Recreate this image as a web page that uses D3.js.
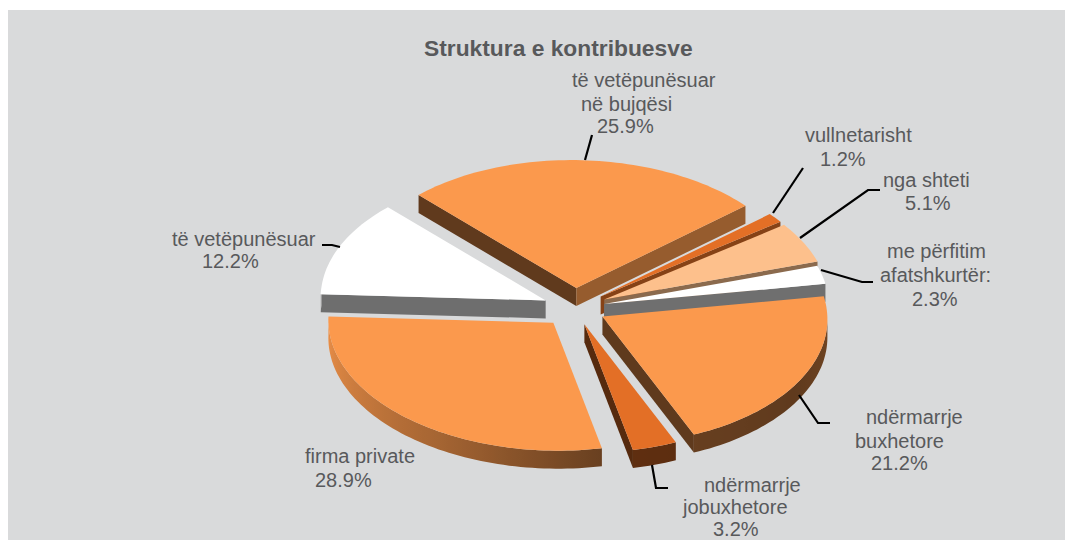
<!DOCTYPE html>
<html>
<head>
<meta charset="utf-8">
<script src="https://cdnjs.cloudflare.com/ajax/libs/d3/7.8.5/d3.min.js"></script>
<style>
html, body { margin: 0; padding: 0; background: #fff; overflow: hidden; }
text { font-family: "Liberation Sans", Arial, sans-serif; fill: #58595b; }
</style>
</head>
<body>
<div id="container"></div>
<script>
// Chart size
var svg_width = 1065
var svg_height = 540

// Data, clockwise from the back slice
var categories = ["të vetëpunësuar në bujqësi", "vullnetarisht", "nga shteti", "me përfitim afatshkurtër:",
    "ndërmarrje buxhetore", "ndërmarrje jobuxhetore", "firma private", "të vetëpunësuar"]
var shares = [25.9, 1.2, 5.1, 2.3, 21.2, 3.2, 28.9, 12.2]
var sliceColors = ["#fb994d", "#e36f26", "#fdc08c", "#ffffff", "#fb994d", "#e36f26", "#fb994d", "#ffffff"]
var explode = [35, 33, 33, 30, 31, 30, 34, 32]
var title = "Struktura e kontribuesve"

// Label text, one entry per line: [text, x, baseline]
var labels = [
    [["të vetëpunësuar", 572, 87], ["në bujqësi", 581, 111], ["25.9%", 597, 133]],
    [["vullnetarisht", 805, 142], ["1.2%", 820, 166]],
    [["nga shteti", 883, 187], ["5.1%", 905, 210]],
    [["me përfitim", 887, 258], ["afatshkurtër:", 880, 282], ["2.3%", 912, 306]],
    [["ndërmarrje", 866, 424], ["buxhetore", 855, 448], ["21.2%", 871, 470]],
    [["ndërmarrje", 704, 491.5], ["jobuxhetore", 683, 513.5], ["3.2%", 713, 535.5]],
    [["firma private", 305, 463], ["28.9%", 315, 487]],
    [["të vetëpunësuar", 172, 246], ["12.2%", 202, 268]]
]

// Leader lines
var leaders = [
    [[585, 160], [592, 135]],
    [[773, 213], [803, 168]],
    [[800, 238], [868, 190], [880, 190]],
    [[821, 270], [862, 282], [873, 282]],
    [[799, 395], [818, 423], [830, 423]],
    [[652, 465], [656, 488], [668, 488]],
    [[322, 245], [332, 245], [340, 247]]
]

// Fake 3D: ellipse with a small shear, walls dropped straight down
var cx = 575, cy = 308, rx = 225, ry = 128, shear = 0.012, depth = 18

var svg = d3.select("#container")
    .append("svg")
    .attr("width", svg_width)
    .attr("height", svg_height)
    .style("display", "block")

svg.append("rect")
    .attr("x", 8)
    .attr("y", 10)
    .attr("width", svg_width - 8)
    .attr("height", svg_height - 10)
    .attr("fill", "#d9dadb")

var defs = svg.append("defs")

// Shade of a straight wall, by the screen angle of its edge
var edgeShade = d3.scaleLinear()
    .domain([66, 78, 182, 226, 319, 342, 350])
    .range([0.38, 0.38, 0.43, 0.38, 0.6, 0.55, 0.43])

// Shade of the curved wall, by screen angle
var arcShade = d3.scaleLinear()
    .domain([-10, 2, 32, 78, 119, 182])
    .range([0.5, 0.45, 0.38, 0.42, 0.65, 0.95])
    .clamp(true)

function shade(color, k) {
    return d3.interpolateRgb("#000000", color)(k)
}

function toDeg(a) {
    return (a * 180 / Math.PI - 90 + 720) % 360
}

var pie = d3.pie()
    .sort(null)
    .startAngle(315.5 * Math.PI / 180)
    .endAngle((315.5 + 360) * Math.PI / 180)

var line = d3.line()

// Point on the tilted disc of a slice; a is a d3.pie angle
function project(tip, a, r) {
    var t = a - Math.PI / 2
    var dx = rx * r * Math.cos(t)
    return [tip[0] + dx, tip[1] + ry * r * Math.sin(t) + shear * dx]
}

function down(p) {
    return [p[0], p[1] + depth]
}

var arcs = pie(shares)

// back to front
var drawOrder = [0, 1, 2, 3, 7, 4, 6, 5]

var slices = svg.append("g").attr("id", "slices")

drawOrder.forEach(function(i) {
    var d = arcs[i]
    var color = sliceColors[i]
    var mid = (d.startAngle + d.endAngle) / 2
    var tip = project([cx, cy], mid, explode[i] / rx)
    var g = slices.append("g").attr("class", "slice")

    var steps = Math.max(4, Math.ceil((d.endAngle - d.startAngle) / (1.5 * Math.PI / 180)))
    var angles = d3.range(steps + 1).map(function(s) {
        return d.startAngle + (d.endAngle - d.startAngle) * s / steps
    })
    var rim = angles.map(function(a) { return project(tip, a, 1) })

    // straight walls, only the ones facing the viewer
    function wall(a, p) {
        var c = shade(color, edgeShade(toDeg(a)))
        g.append("path")
            .attr("d", line([tip, p, down(p), down(tip)]) + "Z")
            .attr("fill", c)
    }
    if (rim[0][0] < tip[0]) wall(angles[0], rim[0])
    if (rim[steps][0] > tip[0]) wall(angles[steps], rim[steps])

    // curved wall, only the front part, shaded along x with a gradient
    var front = d3.range(steps + 1).filter(function(s) {
        return toDeg(angles[s]) < 185
    })
    if (front.length > 1) {
        var x0 = d3.min(front, s => rim[s][0]), x1 = d3.max(front, s => rim[s][0])
        var grad = defs.append("linearGradient")
            .attr("id", "wall" + i)
            .attr("gradientUnits", "userSpaceOnUse")
            .attr("x1", x0).attr("x2", x1)
            .attr("y1", 0).attr("y2", 0)
        front.slice().sort((a, b) => d3.ascending(rim[a][0], rim[b][0])).forEach(function(s) {
            var deg = toDeg(angles[s])
            grad.append("stop")
                .attr("offset", (rim[s][0] - x0) / (x1 - x0))
                .attr("stop-color", shade(color, arcShade(deg)))
        })
        var band = front.map(s => rim[s]).concat(front.map(s => down(rim[s])).reverse())
        g.append("path")
            .attr("d", line(band) + "Z")
            .attr("fill", "url(#wall" + i + ")")
    }

    // top face
    g.append("path")
        .attr("d", line([tip].concat(rim)) + "Z")
        .attr("fill", color)
})

svg.append("g").attr("id", "leaders")
    .selectAll("path")
    .data(leaders)
    .enter()
    .append("path")
    .attr("d", d => line(d))
    .attr("fill", "none")
    .attr("stroke", "#000000")
    .attr("stroke-width", 2.2)

svg.append("text")
    .attr("x", 424)
    .attr("y", 56)
    .attr("font-size", 22.8)
    .attr("font-weight", "bold")
    .text(title)

svg.append("g").attr("id", "labels")
    .selectAll("text")
    .data(labels.flat())
    .enter()
    .append("text")
    .attr("x", d => d[1])
    .attr("y", d => d[2])
    .attr("font-size", 20)
    .text(d => d[0])
</script>
</body>
</html>
